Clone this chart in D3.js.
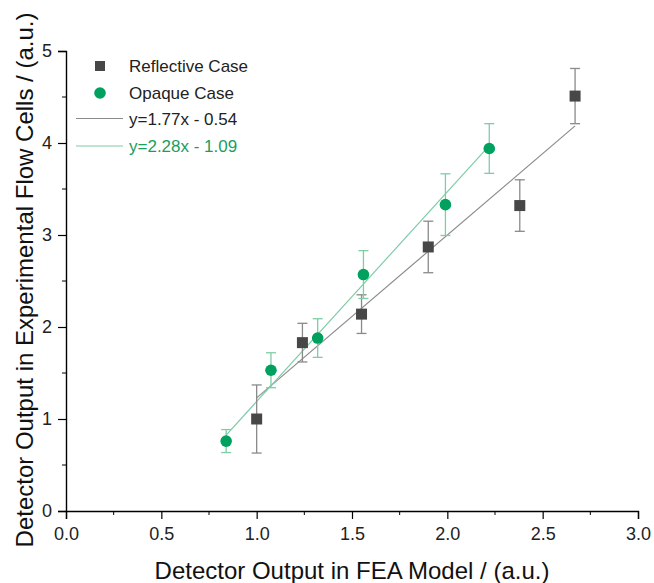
<!DOCTYPE html>
<html><head><meta charset="utf-8">
<script src="https://cdn.jsdelivr.net/npm/d3@7"></script>
<style>body{margin:0;background:#fff;} svg{display:block;font-family:"Liberation Sans",Arial,sans-serif;}</style>
</head><body>
<script>
const xTicks = [0, 0.5, 1.0, 1.5, 2.0, 2.5, 3.0];
const yTicks = [0, 1, 2, 3, 4, 5];
const reflX = [1.00, 1.24, 1.55, 1.90, 2.38, 2.67];
const reflY = [1.00, 1.83, 2.14, 2.87, 3.32, 4.51];
const reflErr = [0.37, 0.21, 0.21, 0.28, 0.28, 0.30];
const opaqX = [0.84, 1.075, 1.32, 1.56, 1.99, 2.22];
const opaqY = [0.76, 1.53, 1.88, 2.57, 3.33, 3.94];
const opaqErr = [0.125, 0.19, 0.21, 0.26, 0.335, 0.27];
const fitRefl = {slope: 1.77, intercept: -0.54, x0: 1.00, x1: 2.67, label: "y=1.77x - 0.54"};
const fitOpaq = {slope: 2.28, intercept: -1.09, x0: 0.84, x1: 2.22, label: "y=2.28x - 1.09"};
const seriesNames = ["Reflective Case", "Opaque Case"];

const W = 654, H = 583;
const svg = d3.select("body").append("svg").attr("width", W).attr("height", H);
const x = d3.scaleLinear().domain([0, 3]).range([66, 638]);
const y = d3.scaleLinear().domain([0, 5]).range([511, 51]);

const dark = "#474747", green = "#00A05E", greyLine = "#8c8c8c", greenLine = "#7fcca6";
const FONT = "Liberation Sans, Arial, sans-serif";

// axes
const xAxis = d3.axisBottom(x).tickValues(xTicks).tickFormat(d3.format(".1f")).tickSizeOuter(0).tickSize(8).tickPadding(8);
const gx = svg.append("g").attr("transform", `translate(0,${y(0)})`).call(xAxis);
gx.selectAll("text").attr("font-size", 18).attr("fill", "#222").attr("font-family", FONT);
svg.append("g").attr("transform", `translate(0,${y(0)})`)
  .selectAll("line").data(d3.range(0.25, 3, 0.5)).join("line")
  .attr("x1", d => x(d)).attr("x2", d => x(d)).attr("y1", 0).attr("y2", 4).attr("stroke", "#000");

const yAxis = d3.axisLeft(y).tickValues(yTicks).tickFormat(d3.format("d")).tickSizeOuter(0).tickSize(8).tickPadding(6);
const gy = svg.append("g").attr("transform", `translate(${x(0)},0)`).call(yAxis);
gy.selectAll("text").attr("font-size", 18).attr("fill", "#222").attr("font-family", FONT);
svg.append("g").attr("transform", `translate(${x(0)},0)`)
  .selectAll("line").data(d3.range(0.5, 5, 1)).join("line")
  .attr("y1", d => y(d)).attr("y2", d => y(d)).attr("x1", 0).attr("x2", -4).attr("stroke", "#000");
[gx, gy].forEach(g => { g.select(".domain").attr("stroke", "#000").attr("stroke-width", 1.4); g.selectAll(".tick line").attr("stroke-width", 1.2); });

// axis titles
svg.append("text").attr("x", 352).attr("y", 579).attr("text-anchor", "middle")
  .attr("font-size", 24).attr("fill", "#111").text("Detector Output in FEA Model / (a.u.)");
svg.append("text").attr("transform", "translate(33,280) rotate(-90)").attr("text-anchor", "middle")
  .attr("font-size", 24).attr("fill", "#111").text("Detector Output in Experimental Flow Cells / (a.u.)");

// fit lines
function fitLine(f, color) {
  svg.append("line").attr("x1", x(f.x0)).attr("y1", y(f.slope * f.x0 + f.intercept))
    .attr("x2", x(f.x1)).attr("y2", y(f.slope * f.x1 + f.intercept))
    .attr("stroke", color).attr("stroke-width", 1.2);
}
fitLine(fitRefl, greyLine);
fitLine(fitOpaq, greenLine);

// error bars
function errBars(xs, ys, es, color) {
  const g = svg.append("g").attr("stroke", color).attr("stroke-width", 1.3);
  xs.forEach((xv, i) => {
    const cx = x(xv), t = y(ys[i] + es[i]), b = y(ys[i] - es[i]);
    g.append("line").attr("x1", cx).attr("x2", cx).attr("y1", t).attr("y2", b);
    g.append("line").attr("x1", cx - 5).attr("x2", cx + 5).attr("y1", t).attr("y2", t);
    g.append("line").attr("x1", cx - 5).attr("x2", cx + 5).attr("y1", b).attr("y2", b);
  });
}
errBars(reflX, reflY, reflErr, "#8a8a8a");
errBars(opaqX, opaqY, opaqErr, greenLine);

// markers
svg.append("g").selectAll("rect").data(reflX).join("rect")
  .attr("x", (d) => x(d) - 5.5).attr("y", (d, i) => y(reflY[i]) - 5.5)
  .attr("width", 11).attr("height", 11).attr("fill", dark);
svg.append("g").selectAll("circle").data(opaqX).join("circle")
  .attr("cx", d => x(d)).attr("cy", (d, i) => y(opaqY[i])).attr("r", 5.8).attr("fill", green);

// legend
const lg = svg.append("g").attr("font-size", 17).attr("font-family", FONT);
lg.append("rect").attr("x", 95).attr("y", 61).attr("width", 10).attr("height", 10).attr("fill", dark);
lg.append("text").attr("x", 129).attr("y", 72).attr("fill", "#222").text(seriesNames[0]);
lg.append("circle").attr("cx", 100).attr("cy", 93).attr("r", 5.8).attr("fill", green);
lg.append("text").attr("x", 129).attr("y", 99).attr("fill", "#222").text(seriesNames[1]);
lg.append("line").attr("x1", 76).attr("x2", 123).attr("y1", 118.5).attr("y2", 118.5).attr("stroke", greyLine).attr("stroke-width", 1.2);
lg.append("text").attr("x", 129).attr("y", 125).attr("fill", "#222").text(fitRefl.label);
lg.append("line").attr("x1", 76).attr("x2", 123).attr("y1", 146).attr("y2", 146).attr("stroke", greenLine).attr("stroke-width", 1.2);
lg.append("text").attr("x", 129).attr("y", 152).attr("fill", "#1a9e5f").text(fitOpaq.label);
</script>
</body></html>
